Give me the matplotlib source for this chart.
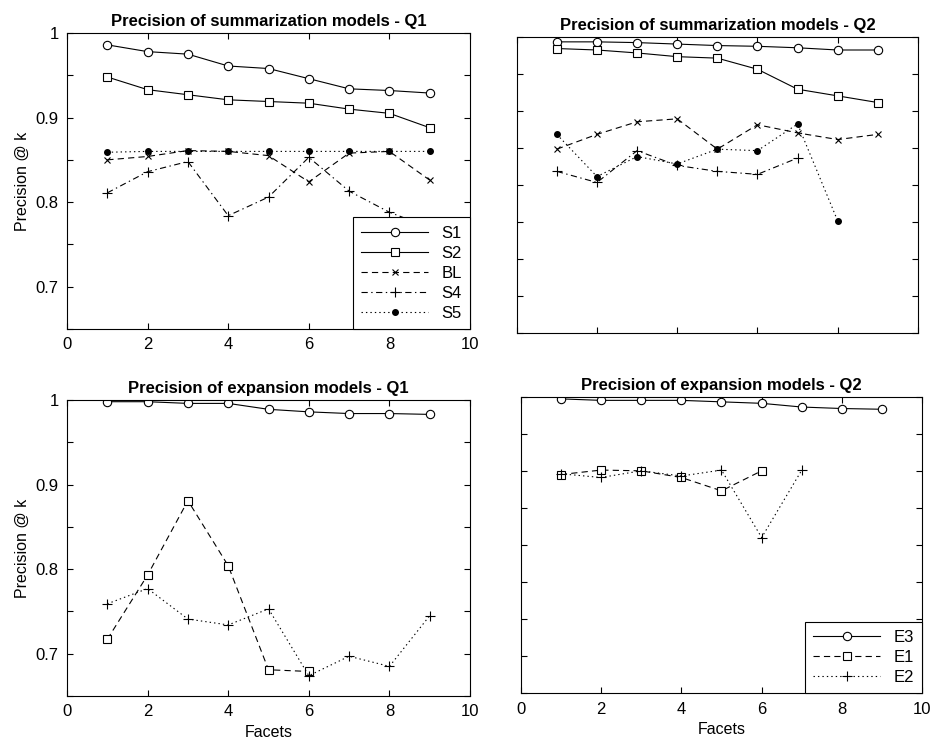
import numpy as np
import matplotlib
matplotlib.use("Agg")
import matplotlib.pyplot as plt

plt.rcParams['font.family'] = ['Liberation Sans', 'DejaVu Sans']
plt.rcParams['lines.scale_dashes'] = False
plt.rcParams['lines.dashed_pattern'] = [4.5, 3.0]
plt.rcParams['lines.dashdot_pattern'] = [4.5, 2.5, 1.0, 2.5]
plt.rcParams['lines.dotted_pattern'] = [1.0, 2.2]

# summarization models, Q1
sq1_s1 = [0.986, 0.978, 0.975, 0.961, 0.958, 0.946, 0.934, 0.932, 0.929]
sq1_s2 = [0.948, 0.933, 0.927, 0.921, 0.919, 0.917, 0.910, 0.905, 0.888]
sq1_bl = [0.850, 0.854, 0.861, 0.860, 0.855, 0.824, 0.858, 0.860, 0.826]
sq1_s4 = [0.811, 0.836, 0.848, 0.784, 0.806, 0.853, 0.813, 0.788, 0.770]
sq1_s5 = [0.859, 0.860, 0.860, 0.860, 0.860, 0.860, 0.860, 0.860, 0.860]

# summarization models, Q2
sq2_s1 = [0.993, 0.993, 0.992, 0.990, 0.988, 0.987, 0.985, 0.982, 0.982]
sq2_s2 = [0.984, 0.982, 0.978, 0.973, 0.971, 0.956, 0.929, 0.920, 0.911]
sq2_bl = [0.848, 0.868, 0.885, 0.889, 0.848, 0.881, 0.870, 0.861, 0.868]
sq2_s4 = [0.818, 0.803, 0.846, 0.826, 0.818, 0.814, 0.836]
sq2_s5 = [0.868, 0.811, 0.838, 0.828, 0.848, 0.846, 0.882, 0.751]

# expansion models, Q1
eq1_e3 = [0.998, 0.998, 0.996, 0.996, 0.989, 0.986, 0.984, 0.984, 0.983]
eq1_e1 = [0.717, 0.793, 0.881, 0.804, 0.681, 0.679]
eq1_e2 = [0.759, 0.777, 0.741, 0.734, 0.753, 0.674, 0.697, 0.685, 0.745]

# expansion models, Q2
eq2_e3 = [0.997, 0.995, 0.995, 0.995, 0.993, 0.991, 0.986, 0.984, 0.983]
eq2_e1 = [0.895, 0.901, 0.900, 0.891, 0.873, 0.900]
eq2_e2 = [0.896, 0.891, 0.900, 0.893, 0.901, 0.810, 0.901]


def facets(v):
    return np.arange(1, len(v) + 1)


fig = plt.figure(figsize=(9.33, 7.47), dpi=100)
ax1 = fig.add_axes([0.0718, 0.5596, 0.432, 0.3962])
ax2 = fig.add_axes([0.5538, 0.5546, 0.4301, 0.3963])
ax3 = fig.add_axes([0.0718, 0.0683, 0.432, 0.3962])
ax4 = fig.add_axes([0.5581, 0.0719, 0.4304, 0.3971])

lw = 0.8
kw = dict(color='black', lw=lw, mfc='white', mec='black', mew=0.8)
dot = dict(color='black', lw=lw, mfc='black', mec='black')

# top left
ax1.plot(facets(sq1_s1), sq1_s1, '-', marker='o', ms=6, label='S1', **kw)
ax1.plot(facets(sq1_s2), sq1_s2, '-', marker='s', ms=6, label='S2', **kw)
ax1.plot(facets(sq1_bl), sq1_bl, '--', marker='x', ms=5, label='BL', **kw)
ax1.plot(facets(sq1_s4), sq1_s4, '-.', marker='+', ms=7, label='S4', **kw)
ax1.plot(facets(sq1_s5), sq1_s5, ':', marker='o', ms=4, label='S5', **dot)

# top right
ax2.plot(facets(sq2_s1), sq2_s1, '-', marker='o', ms=6, **kw)
ax2.plot(facets(sq2_s2), sq2_s2, '-', marker='s', ms=6, **kw)
ax2.plot(facets(sq2_bl), sq2_bl, '--', marker='x', ms=5, **kw)
ax2.plot(facets(sq2_s4), sq2_s4, '-.', marker='+', ms=7, **kw)
ax2.plot(facets(sq2_s5), sq2_s5, ':', marker='o', ms=4, **dot)

# bottom left
ax3.plot(facets(eq1_e3), eq1_e3, '-', marker='o', ms=6, **kw)
ax3.plot(facets(eq1_e1), eq1_e1, '--', marker='s', ms=6, **kw)
ax3.plot(facets(eq1_e2), eq1_e2, ':', marker='+', ms=7, **kw)

# bottom right
ax4.plot(facets(eq2_e3), eq2_e3, '-', marker='o', ms=6, label='E3', **kw)
ax4.plot(facets(eq2_e1), eq2_e1, '--', marker='s', ms=6, label='E1', **kw)
ax4.plot(facets(eq2_e2), eq2_e2, ':', marker='+', ms=7, label='E2', **kw)

titles = ['Precision of summarization models - Q1',
          'Precision of summarization models - Q2',
          'Precision of expansion models - Q1',
          'Precision of expansion models - Q2']

for ax, t in zip([ax1, ax2, ax3, ax4], titles):
    ax.set_xlim(0, 10)
    ax.set_xticks([0, 2, 4, 6, 8, 10])
    ax.set_title(t, fontsize=12, fontweight='bold', pad=5)
    ax.tick_params(direction='in', top=True, right=True, length=4,
                   width=0.8, labelsize=12, pad=6)
    for s in ax.spines.values():
        s.set_linewidth(0.8)

for ax in [ax1, ax3]:
    ax.set_ylim(0.65, 1)
    ax.set_yticks(np.arange(0.65, 1.001, 0.05))
    ax.set_yticklabels(['', '0.7', '', '0.8', '', '0.9', '', '1'])
    ax.set_ylabel('Precision @ k', fontsize=11.5, labelpad=4)

for ax in [ax2, ax4]:
    ax.set_ylim(0.6, 1)
    ax.set_yticks(np.arange(0.6, 1.001, 0.05))
    ax.set_yticklabels([])

ax2.set_xticklabels([])

for ax in [ax3, ax4]:
    ax.set_xlabel('Facets', fontsize=11.5, labelpad=4)

for ax in [ax1, ax4]:
    leg = ax.legend(loc='lower right', borderaxespad=0, fancybox=False,
                    edgecolor='black', framealpha=1, fontsize=12,
                    handlelength=4, labelspacing=0.3, borderpad=0.5)
    leg.get_frame().set_linewidth(0.8)

fig.savefig('out.png', dpi=100)
